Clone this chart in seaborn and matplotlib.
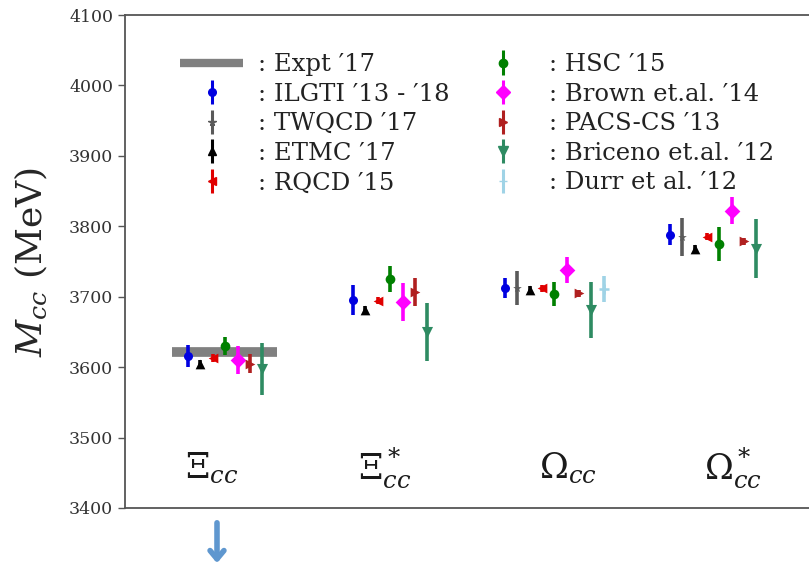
import numpy as np
import pandas as pd
import matplotlib
matplotlib.use("Agg")
import matplotlib.pyplot as plt
import seaborn as sns

# ---------------- data ----------------
particles = [r"$\Xi_{cc}$", r"$\Xi^*_{cc}$", r"$\Omega_{cc}$", r"$\Omega^*_{cc}$"]
group_x = [1.0, 2.0, 2.92, 3.92]          # start of each cluster
label_x = [1.145, 2.19, 3.305, 4.305]
expt_label = ": Expt ′17"
expt_value = [3621.4, np.nan, np.nan, np.nan]

series_names = [": ILGTI ′13 - ′18", ": TWQCD ′17", ": ETMC ′17", ": RQCD ′15",
                ": HSC ′15", ": Brown et.al. ′14", ": PACS-CS ′13",
                ": Briceno et.al. ′12", ": Durr et al. ′12"]
ilgti_val = [3616, 3695, 3712, 3788]
ilgti_err = [16, 21, 14, 15]
twqcd_val = [np.nan, np.nan, 3712, 3785]
twqcd_err = [np.nan, np.nan, 24, 27]
etmc_val = [3605, 3681, 3710, 3768]
etmc_err = [5, 6, 5, 5]
rqcd_val = [3613, 3694, 3712, 3785]
rqcd_err = [6, 5, 5, 5]
hsc_val = [3630, 3725, 3704, 3775]
hsc_err = [13, 19, 17, 24]
brown_val = [3610, 3693, 3738, 3822]
brown_err = [20, 27, 18, 19]
pacs_val = [3605, 3707, 3705, 3779]
pacs_err = [14, 20, 5, 5]
briceno_val = [3597, 3650, 3681, 3768]
briceno_err = [37, 41, 40, 42]
durr_val = [np.nan, np.nan, 3711, np.nan]
durr_err = [np.nan, np.nan, 19, np.nan]

values = [ilgti_val, twqcd_val, etmc_val, rqcd_val, hsc_val, brown_val,
          pacs_val, briceno_val, durr_val]
errors = [ilgti_err, twqcd_err, etmc_err, rqcd_err, hsc_err, brown_err,
          pacs_err, briceno_err, durr_err]
colors = ["#0000e0", "#5a5a5a", "black", "#e00000", "#008000", "#ff00ff",
          "#b02020", "#2e8b62", "#9fd3e6"]
markers = ["o", "*", "^", "<", "o", "D", ">", "v", "+"]
msizes = [6.5, 6.5, 7, 7, 7, 8, 7, 8, 7]

yticks = [3400, 3500, 3600, 3700, 3800, 3900, 4000, 4100]

# ---------------- build table ----------------
step = 0.075
rows = []
counters = [0] * len(particles)
for s, name in enumerate(series_names):
    for g in range(len(particles)):
        v = values[s][g]
        if np.isnan(v):
            continue
        rows.append(dict(series=name, group=g, x=group_x[g] + step * counters[g],
                         y=v, err=errors[s][g]))
        counters[g] += 1
df = pd.DataFrame(rows)

# ---------------- style ----------------
sns.set_style("ticks")
plt.rcParams["font.family"] = ["DejaVu Serif"]
plt.rcParams["mathtext.fontset"] = "dejavuserif"

W, H = 809, 569
fig = plt.figure(figsize=(W / 100, H / 100), dpi=100)
ax = fig.add_axes([125 / W, 1 - 508 / H, 705 / W, 493 / H])

handles = []
ex0, ex1 = 0.903, 1.539
for g in range(len(particles)):
    if not np.isnan(expt_value[g]):
        ax.plot([ex0, ex1], [expt_value[g]] * 2, color="#808080", lw=7,
                solid_capstyle="butt", zorder=1)
h_expt, = ax.plot([], [], color="#808080", lw=6, solid_capstyle="butt",
                  label=expt_label)
handles.append(h_expt)

for s, name in enumerate(series_names):
    sub = df[df.series == name]
    ax.errorbar(sub.x, sub.y, yerr=sub.err, fmt="none", ecolor=colors[s],
                elinewidth=2.6, capsize=0, zorder=2)
    sns.scatterplot(data=sub, x="x", y="y", ax=ax, color=colors[s],
                    marker=markers[s], s=msizes[s] ** 2,
                    linewidth=1.8 if markers[s] == "+" else 0,
                    edgecolor=colors[s], legend=False, zorder=3)
    h = ax.errorbar([], [], yerr=[], fmt=markers[s], color=colors[s],
                    ms=msizes[s] - 1, elinewidth=2.2, capsize=0, label=name)
    handles.append(h)

for g, lab in enumerate(particles):
    ax.text(label_x[g], 3442, lab, ha="center", va="baseline", fontsize=25,
            color="#1a1a1a")

ax.set_xlim(0.618, 4.891)
ax.set_ylim(3400, 4100)
ax.set_yticks(yticks)
ax.set_xticks([])
ax.set_xlabel("")
ax.set_ylabel(r"$M_{cc}$ (MeV)", fontsize=26, labelpad=14)
ax.tick_params(axis="y", labelsize=12.5, colors="#555555", labelcolor="#333333",
               length=5, width=1)
for sp in ax.spines.values():
    sp.set_color("#555555")
    sp.set_linewidth(1.3)

labels = [expt_label] + series_names
leg = ax.legend(handles, labels, ncol=2, frameon=False, fontsize=17.5,
                loc="upper left", bbox_to_anchor=(168 / W, 1 - 41 / H),
                bbox_transform=fig.transFigure, handlelength=2.6,
                handletextpad=0.6, labelspacing=0.27, columnspacing=0.9,
                borderpad=0)
for t in leg.get_texts():
    t.set_color("#222222")

# arrow below the first cluster
ax.annotate("", xy=(217 / W, 1 - 566 / H), xytext=(217 / W, 1 - 520 / H),
            xycoords="figure fraction", textcoords="figure fraction",
            arrowprops=dict(arrowstyle="->,head_length=0.6,head_width=0.5",
                            color="#5f97cf", lw=4), annotation_clip=False)

fig.savefig("out.png", dpi=100)
